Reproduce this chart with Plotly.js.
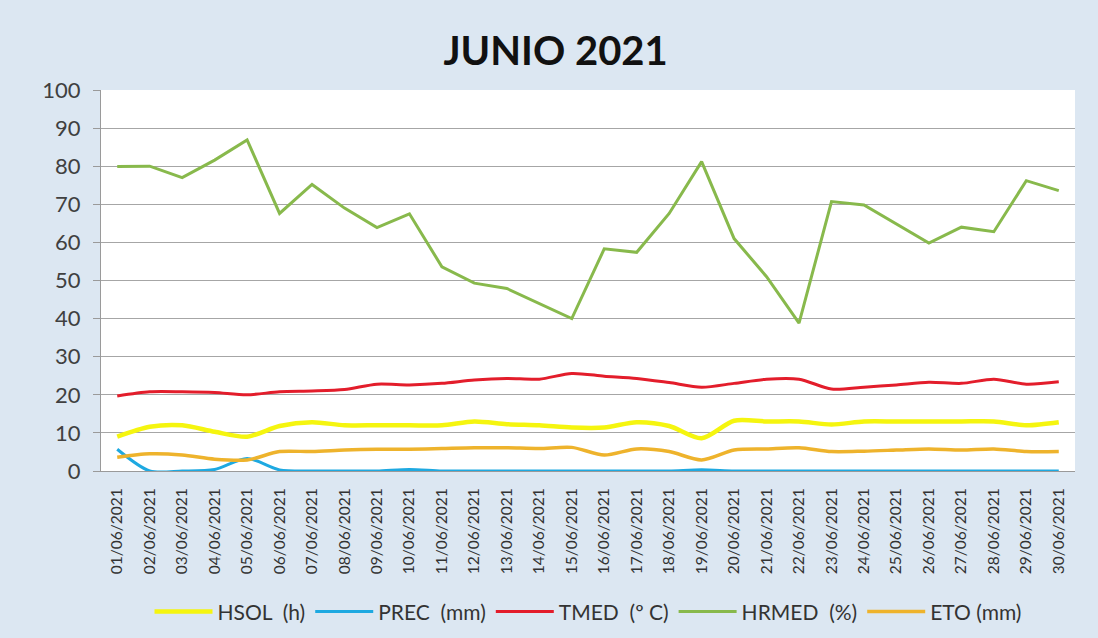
<!DOCTYPE html>
<html>
<head>
<meta charset="utf-8">
<script src="https://cdn.plot.ly/plotly-3.0.1.min.js"></script>
<style>
html,body{margin:0;padding:0;background:#dce7f2;}
#chart{width:1098px;height:638px;}
</style>
</head>
<body>
<div id="chart"></div>
<script>
var dates = ['01/06/2021','02/06/2021','03/06/2021','04/06/2021','05/06/2021','06/06/2021','07/06/2021','08/06/2021','09/06/2021','10/06/2021',
             '11/06/2021','12/06/2021','13/06/2021','14/06/2021','15/06/2021','16/06/2021','17/06/2021','18/06/2021','19/06/2021','20/06/2021',
             '21/06/2021','22/06/2021','23/06/2021','24/06/2021','25/06/2021','26/06/2021','27/06/2021','28/06/2021','29/06/2021','30/06/2021'];
var hsol  = [9.0,11.6,12.0,10.3,9.0,11.8,12.8,12.0,12.0,12.0,12.0,13.0,12.3,12.0,11.4,11.4,12.8,11.8,8.6,13.2,13.0,13.0,12.2,13.0,13.0,13.0,13.0,13.0,12.0,12.8];
var prec  = [5.7,0,0,0.4,3.3,0.3,0,0,0,0.4,0,0,0,0,0,0,0,0,0.3,0,0,0,0,0,0,0,0,0,0,0];
var tmed  = [19.7,20.8,20.8,20.6,20.0,20.8,21.0,21.4,22.8,22.6,23.0,23.9,24.3,24.1,25.6,24.9,24.3,23.2,22.0,23.0,24.1,24.1,21.5,22.0,22.6,23.3,23.0,24.1,22.8,23.4];
var hrmed = [79.9,80.0,77.0,81.6,86.9,67.6,75.2,69.0,63.9,67.5,53.6,49.3,47.9,44.0,40.0,58.3,57.4,67.6,81.2,61.0,51.0,38.8,70.7,69.8,64.8,59.8,64.0,62.8,76.2,73.6];
var eto   = [3.6,4.5,4.2,3.1,2.9,5.1,5.1,5.5,5.7,5.7,5.9,6.1,6.1,5.9,6.2,4.2,5.8,5.1,2.9,5.5,5.8,6.1,5.1,5.2,5.5,5.8,5.5,5.8,5.1,5.1];
var names = ['HSOL\u00A0\u00A0(h)','PREC\u00A0\u00A0(mm)','TMED\u00A0\u00A0(º\u00A0C)','HRMED\u00A0\u00A0(%)','ETO\u00A0(mm)'];
var yTicks = [0,10,20,30,40,50,60,70,80,90,100];

var fontFam = 'Lato, Carlito, Calibri, "Open Sans", sans-serif';
var traces = [
  {x: dates, y: hsol,  name: names[0], type:'scatter', mode:'lines', line:{color:'#f5f50f', width:4.5, shape:'spline', smoothing:0.8}},
  {x: dates, y: prec,  name: names[1], type:'scatter', mode:'lines', line:{color:'#1ea9e1', width:3, shape:'spline', smoothing:0.8}},
  {x: dates, y: tmed,  name: names[2], type:'scatter', mode:'lines', line:{color:'#e31d2b', width:3, shape:'spline', smoothing:0.8}},
  {x: dates, y: hrmed, name: names[3], type:'scatter', mode:'lines', line:{color:'#88b94c', width:3}},
  {x: dates, y: eto,   name: names[4], type:'scatter', mode:'lines', line:{color:'#eeb32c', width:3.5, shape:'spline', smoothing:0.8}}
];

var layout = {
  width: 1098, height: 638,
  paper_bgcolor: '#dce7f2',
  plot_bgcolor: '#ffffff',
  margin: {l:101, r:23, t:90, b:167, autoexpand:false},
  font: {family: fontFam, color:'#404040'},
  title: {text:'<b>JUNIO 2021</b>', font:{family: fontFam, size:40, color:'#111111'}, x:0.506, xanchor:'center', y:0.92, yanchor:'middle'},
  showlegend: true,
  legend: {orientation:'h', x:0.5, xanchor:'center', y:-0.37, yanchor:'middle',
           font:{family: fontFam, size:21, color:'#333333'}, bgcolor:'rgba(0,0,0,0)', traceorder:'normal', itemwidth:58},
  xaxis: {type:'category', range:[-0.5, 29.5], tickangle:-90, showgrid:false, zeroline:false, automargin:false,
          showline:true, linecolor:'#9a9a9a', linewidth:1, ticks:'', ticklabelstandoff:10,
          tickfont:{family: fontFam, size:15.5, color:'#333333'}, fixedrange:true},
  yaxis: {range:[0,100], tickvals: yTicks, ticktext: yTicks.map(String), showgrid:true, gridcolor:'#a6a6a6', gridwidth:1,
          zeroline:false, showline:true, linecolor:'#9a9a9a', linewidth:1, ticks:'outside', ticklen:7, tickcolor:'#9a9a9a', automargin:false,
          ticklabelstandoff:8, tickfont:{family: fontFam, size:22, color:'#404040'}, fixedrange:true}
};

Plotly.newPlot('chart', traces, layout, {displayModeBar:false, staticPlot:true});
</script>
</body>
</html>
